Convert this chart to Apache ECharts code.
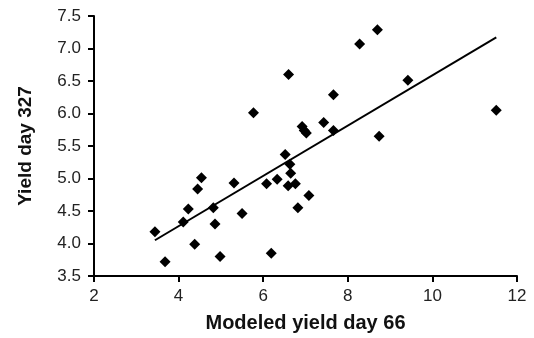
<!DOCTYPE html>
<html>
<head>
<meta charset="utf-8">
<script src="https://cdn.jsdelivr.net/npm/echarts@6/dist/echarts.min.js"></script>
<style>
  html, body { margin: 0; padding: 0; background: #fff; }
  #chart { width: 534px; height: 338px; }
</style>
</head>
<body>
<div id="chart"></div>
<script>
// modeled yield day 66 vs yield day 327
var modeledX = [3.44, 3.68, 4.11, 4.23, 4.38, 4.45, 4.54, 4.82, 4.86, 4.98,
  5.31, 5.50, 5.77, 6.08, 6.19, 6.33, 6.52, 6.60, 6.63, 6.65,
  6.59, 6.76, 6.82, 6.92, 6.97, 7.02, 7.08, 7.43, 7.66, 7.66,
  8.28, 8.70, 8.74, 9.42, 11.51];
var yieldY = [4.18, 3.72, 4.33, 4.53, 3.99, 4.84, 5.01, 4.55, 4.30, 3.80,
  4.93, 4.46, 6.01, 4.92, 3.85, 4.99, 5.37, 6.60, 5.22, 5.08,
  4.89, 4.92, 4.55, 5.80, 5.74, 5.70, 4.74, 5.86, 6.29, 5.74,
  7.07, 7.29, 5.65, 6.51, 6.05];

// fitted line ends
var fitX = [3.44, 11.51];
var fitY = [4.05, 7.17];

var xTicks = [2, 4, 6, 8, 10, 12];

var pts = modeledX.map(function (x, i) { return [x, yieldY[i]]; });
var fit = fitX.map(function (x, i) { return [x, fitY[i]]; });

var font = 'Liberation Sans, Arial, sans-serif';
var chart = echarts.init(document.getElementById('chart'));

chart.setOption({
  animation: false,
  grid: { left: 94, right: 17, top: 16, bottom: 61 },
  xAxis: {
    type: 'value',
    min: xTicks[0],
    max: xTicks[xTicks.length - 1],
    interval: 2,
    name: 'Modeled yield day 66',
    nameLocation: 'middle',
    nameGap: 37,
    nameTextStyle: { fontFamily: font, fontSize: 20, fontWeight: 'bold', color: '#111' },
    axisLine: { lineStyle: { color: '#000', width: 2 } },
    axisTick: { length: 6, lineStyle: { color: '#000', width: 2 } },
    axisLabel: { fontFamily: font, fontSize: 17, color: '#222', margin: 12 },
    splitLine: { show: false }
  },
  yAxis: {
    type: 'value',
    min: 3.5,
    max: 7.5,
    interval: 0.5,
    name: 'Yield day 327',
    nameLocation: 'middle',
    nameGap: 59,
    nameTextStyle: { fontFamily: font, fontSize: 19, fontWeight: 'bold', color: '#111' },
    axisLine: { show: true, lineStyle: { color: '#000', width: 2 } },
    axisTick: { show: true, length: 6, lineStyle: { color: '#000', width: 2 } },
    axisLabel: {
      fontFamily: font, fontSize: 17, color: '#222', margin: 13,
      formatter: function (v) { return v.toFixed(1); }
    },
    splitLine: { show: false }
  },
  series: [
    {
      type: 'scatter',
      data: pts,
      symbol: 'diamond',
      symbolSize: [11, 11],
      itemStyle: { color: '#000', opacity: 1 },
      z: 3
    },
    {
      type: 'line',
      data: fit,
      symbol: 'none',
      lineStyle: { color: '#000', width: 2 },
      z: 2
    }
  ]
});
</script>
</body>
</html>
